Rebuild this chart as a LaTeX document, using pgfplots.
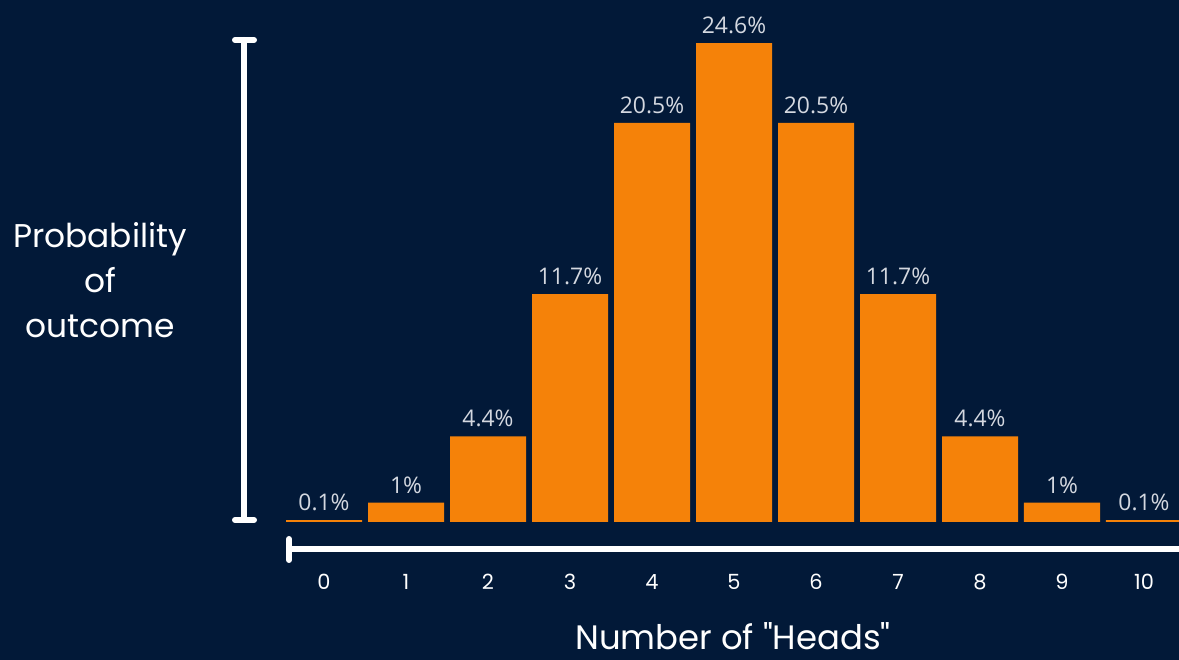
\documentclass[border=0pt]{standalone}
\usepackage{fontspec}
\usepackage{pgfplots}
\pgfplotsset{compat=1.18}
\setmainfont{Open Sans}
\newfontfamily\hand{Poppins}
\definecolor{navy}{RGB}{2,25,56}
\definecolor{barorange}{RGB}{245,130,9}
\definecolor{valgray}{RGB}{212,216,224}

\begin{document}
\begin{tikzpicture}
\fill[navy] (0,0) rectangle (1179bp,660bp);
\useasboundingbox (0,0) rectangle (1179bp,660bp);
\begin{axis}[
  at={(283bp,138bp)}, anchor=south west,
  scale only axis, width=896bp, height=522bp,
  xmin=-0.5, xmax=10.427, ymin=0, ymax=26.81,
  axis line style={draw=none}, tick style={draw=none},
  ybar, bar width=76bp,
  xtick={0,...,10}, ytick=\empty,
  xticklabels={0,1,2,3,4,5,6,7,8,9,10},
  xticklabel style={font=\hand\fontsize{21}{21}\selectfont, text=white, anchor=center, yshift=-56bp},
  point meta=explicit symbolic,
  nodes near coords={\pgfplotspointmeta\%},
  nodes near coords style={font=\fontsize{23}{23}\selectfont, text=valgray, anchor=south, inner sep=9bp},
]
\addplot[fill=barorange, draw=none] table[x=x, y=y, meta=lbl] {
x y lbl
0 0.1 0.1
1 1.0 1
2 4.4 4.4
3 11.7 11.7
4 20.5 20.5
5 24.6 24.6
6 20.5 20.5
7 11.7 11.7
8 4.4 4.4
9 1.0 1
10 0.1 0.1
};
\end{axis}
% hand-drawn style axis strokes
\draw[white, line width=6bp, line cap=round] (244bp,620bp) -- (244bp,140bp);
\draw[white, line width=6bp, line cap=round] (235bp,620bp) -- (254bp,620bp);
\draw[white, line width=6bp, line cap=round] (235bp,140bp) -- (254bp,140bp);
\draw[white, line width=6bp, line cap=round] (289bp,111bp) -- (1190bp,111bp);
\draw[white, line width=6bp, line cap=round] (289bp,100bp) -- (289bp,121bp);
% axis titles
\node[text=white, align=center, font=\hand\fontsize{33}{45}\selectfont] at (100bp,380bp) {Probability\\of\\outcome};
\node[text=white, font=\hand\fontsize{34}{34}\selectfont] at (733bp,24bp) {Number of "Heads"};
\end{tikzpicture}
\end{document}
